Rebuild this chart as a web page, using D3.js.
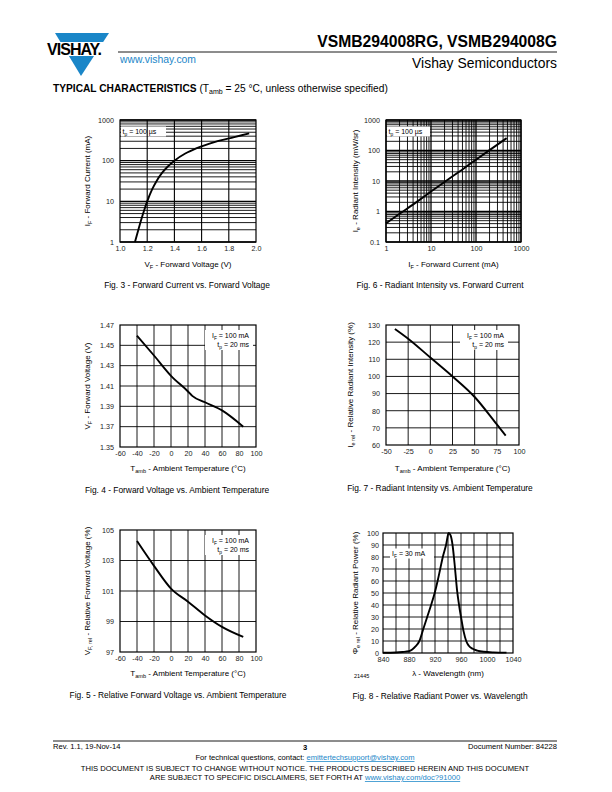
<!DOCTYPE html>
<html><head><meta charset="utf-8">
<script src="https://cdn.jsdelivr.net/npm/d3@7"></script>
<style>
body{margin:0;background:#fff;}
svg{display:block;font-family:"Liberation Sans",Arial,sans-serif;}
</style></head>
<body><svg id="page" width="612" height="792"></svg>
<script>
// ---------- DATA ----------
// Fig. 3 - Forward Current vs. Forward Voltage
const fig3_VF = [1.11,1.135,1.15,1.17,1.2,1.237,1.265,1.309,1.348,1.40,1.48,1.56,1.70,1.84,1.95];
const fig3_IF = [1,2,3,5,10,20,30,50,70,100,150,200,290,380,470];
const fig3_xTicks = [1.0,1.2,1.4,1.6,1.8,2.0];
const fig3_yTicks = [1,10,100,1000];
// Fig. 6 - Radiant Intensity vs. Forward Current
const fig6_IF = [1,2,5,10,20,50,100,200,480];
const fig6_Ie = [0.41,0.84,2.15,4.5,9.3,24,50,103,255];
const fig6_xTicks = [1,10,100,1000];
const fig6_yTicks = [0.1,1,10,100,1000];
// Fig. 4 - Forward Voltage vs. Ambient Temperature
const fig4_T = [-40,-20,0,20,25,40,60,85];
const fig4_VF = [1.4595,1.440,1.420,1.4046,1.4003,1.394,1.386,1.370];
const fig4_xTicks = [-60,-40,-20,0,20,40,60,80,100];
const fig4_yTicks = [1.35,1.37,1.39,1.41,1.43,1.45,1.47];
// Fig. 7 - Radiant Intensity vs. Ambient Temperature
const fig7_T = [-40,-25,0,25,50,75,85];
const fig7_Ie = [127.7,122,111,100,88,72,65.5];
const fig7_xTicks = [-50,-25,0,25,50,75,100];
const fig7_yTicks = [60,70,80,90,100,110,120,130];
// Fig. 5 - Relative Forward Voltage vs. Ambient Temperature
const fig5_T = [-40,-20,0,20,40,60,85];
const fig5_VF = [104.28,102.65,101.16,100.3,99.4,98.65,97.99];
const fig5_xTicks = [-60,-40,-20,0,20,40,60,80,100];
const fig5_yTicks = [97,99,101,103,105];
// Fig. 8 - Relative Radiant Power vs. Wavelength
const fig8_WL = [840,860,870,880,885,890,896,902,908,914,919.5,924,928,932,937,941,944,947,950,954,957,960,964,968,972,978,985,995,1010,1030];
const fig8_P = [0.2,0.4,0.8,1.5,3,5.5,10,20,30,40,50,60,70,80,90,100,98,90,75,52,40,30,18,10,6,3.5,2,1,0.5,0.3];
const fig8_xTicks = [840,880,920,960,1000,1040];
const fig8_yTicks = [0,10,20,30,40,50,60,70,80,90,100];

// ---------- DRAW ----------
const svg = d3.select("#page");
const FONT = '"Liberation Sans",Arial,sans-serif';
const TICK = 7.2, TITLE = 8, CAP = 8.4, LEG = 7;

// header
const logo = svg.append("g");
logo.append("path").attr("d","M55,33 L109,33 L81,76 Z").attr("fill","#1a86c8");
logo.append("rect").attr("x",44).attr("y",42).attr("width",68).attr("height",14).attr("fill","#fff");
logo.append("text").attr("x",74).attr("y",54.5).attr("text-anchor","middle")
  .attr("font-size",16).attr("font-weight","bold").attr("letter-spacing",-1).text("VISHAY.");
svg.append("text").attr("x",557).attr("y",47).attr("text-anchor","end")
  .attr("font-size",15.7).attr("font-weight","bold").text("VSMB294008RG, VSMB294008G");
svg.append("line").attr("x1",118).attr("x2",557).attr("y1",52).attr("y2",52).attr("stroke","#000").attr("stroke-width",0.9);
svg.append("text").attr("x",120).attr("y",62.5).attr("font-size",10.4).attr("fill","#1a86c8").text("www.vishay.com");
svg.append("text").attr("x",557).attr("y",68).attr("text-anchor","end").attr("font-size",13.9).text("Vishay Semiconductors");
const tc = svg.append("text").attr("x",53).attr("y",92).attr("font-size",10.2);
tc.append("tspan").attr("font-weight","bold").text("TYPICAL CHARACTERISTICS");
tc.append("tspan").text(" (T");
tc.append("tspan").attr("font-size",7).attr("dy",2).text("amb");
tc.append("tspan").attr("dy",-2).text(" = 25 °C, unless otherwise specified)");

// footer
const FS = 7.6;
svg.append("line").attr("x1",53).attr("x2",557).attr("y1",741).attr("y2",741).attr("stroke","#000").attr("stroke-width",0.9);
svg.append("text").attr("x",53).attr("y",749).attr("font-size",FS).text("Rev. 1.1, 19-Nov-14");
svg.append("text").attr("x",305).attr("y",750).attr("text-anchor","middle").attr("font-size",FS).attr("font-weight","bold").text("3");
svg.append("text").attr("x",557).attr("y",749).attr("text-anchor","end").attr("font-size",FS).text("Document Number: 84228");
const ft = svg.append("text").attr("x",305).attr("y",760).attr("text-anchor","middle").attr("font-size",FS);
ft.append("tspan").text("For technical questions, contact: ");
ft.append("tspan").attr("fill","#1a86c8").attr("text-decoration","underline").text("emittertechsupport@vishay.com");
svg.append("text").attr("x",305).attr("y",771).attr("text-anchor","middle").attr("font-size",FS)
  .text("THIS DOCUMENT IS SUBJECT TO CHANGE WITHOUT NOTICE. THE PRODUCTS DESCRIBED HEREIN AND THIS DOCUMENT");
const ft2 = svg.append("text").attr("x",305).attr("y",780).attr("text-anchor","middle").attr("font-size",FS);
ft2.append("tspan").text("ARE SUBJECT TO SPECIFIC DISCLAIMERS, SET FORTH AT ");
ft2.append("tspan").attr("fill","#1a86c8").attr("text-decoration","underline").text("www.vishay.com/doc?91000");

function logGrid(domain){
  const out=[]; let d=domain[0];
  while(d<domain[1]-1e-9){ for(let k=1;k<10;k++){ out.push({v:d*k,major:k===1}); } d*=10; }
  out.push({v:domain[1],major:true});
  return out;
}

function sub(t, parts, fs){
  t.append("tspan").text(parts[0]);
  if(parts[1]) t.append("tspan").attr("font-size",fs*0.7).attr("dy",fs*0.22).text(parts[1]);
  if(parts[2]) t.append("tspan").attr("dy",parts[1]? -fs*0.22:0).text(parts[2]);
}

function chart(o){
  const g = svg.append("g");
  const x = (o.xLog? d3.scaleLog(): d3.scaleLinear()).domain(o.xDomain).range([o.x0,o.x1]);
  const y = (o.yLog? d3.scaleLog(): d3.scaleLinear()).domain(o.yDomain).range([o.y1,o.y0]);
  const xg = o.xLog? logGrid(o.xDomain) : o.xGrid.map(v=>({v,major:false}));
  const yg = o.yLog? logGrid(o.yDomain) : o.yGrid.map(v=>({v,major:false}));
  g.selectAll(".gx").data(xg).enter().append("line")
    .attr("x1",d=>x(d.v)).attr("x2",d=>x(d.v)).attr("y1",o.y0).attr("y2",o.y1)
    .attr("stroke","#000").attr("stroke-width",d=>d.major?1.3:0.9);
  g.selectAll(".gy").data(yg).enter().append("line")
    .attr("y1",d=>y(d.v)).attr("y2",d=>y(d.v)).attr("x1",o.x0).attr("x2",o.x1)
    .attr("stroke","#000").attr("stroke-width",d=>d.major?1.3:0.9);
  if(o.legend){
    const L=o.legend;
    g.append("rect").attr("x",L.x).attr("y",L.y).attr("width",L.w).attr("height",L.h).attr("fill","#fff");
    L.lines.forEach((ln,i)=>{
      const t=g.append("text").attr("x",L.tx).attr("y",L.ty+i*9).attr("font-size",LEG).attr("text-anchor",L.anchor||"start");
      sub(t, ln, LEG);
    });
  }
  g.append("rect").attr("x",o.x0).attr("y",o.y0).attr("width",o.x1-o.x0).attr("height",o.y1-o.y0)
    .attr("fill","none").attr("stroke","#000").attr("stroke-width",1.2);
  const line = d3.line().x(d=>x(d[0])).y(d=>y(d[1])).curve(d3.curveMonotoneX);
  g.append("path").datum(o.xs.map((v,i)=>[v,o.ys[i]])).attr("d",line)
    .attr("fill","none").attr("stroke","#000").attr("stroke-width",1.9);
  const xAxis = d3.axisBottom(x).tickValues(o.xTicks).tickSize(0).tickPadding(4).tickFormat(o.xFmt);
  const xa = g.append("g").attr("transform",`translate(0,${o.y1})`).call(xAxis);
  const yAxis = d3.axisLeft(y).tickValues(o.yTicks).tickSize(0).tickPadding(o.yPad||6).tickFormat(o.yFmt);
  const ya = g.append("g").attr("transform",`translate(${o.x0},0)`).call(yAxis);
  [xa,ya].forEach(a=>{ a.select(".domain").remove(); a.selectAll("text").attr("font-size",TICK).attr("font-family",FONT).attr("fill","#222"); });
  const xt = g.append("text").attr("x",(o.x0+o.x1)/2).attr("y",o.y1+(o.xtDy||25)).attr("text-anchor","middle").attr("font-size",TITLE);
  sub(xt, o.xTitle, TITLE);
  const yt = g.append("text").attr("transform",`translate(${o.ytX},${(o.y0+o.y1)/2}) rotate(-90)`).attr("text-anchor","middle").attr("font-size",TITLE);
  sub(yt, o.yTitle, TITLE);
  g.append("text").attr("x",o.capX).attr("y",o.y1+45.5).attr("text-anchor","middle").attr("font-size",CAP).text(o.caption);
  return g;
}
const plain = d=>String(d);

chart({x0:120,x1:256,y0:120,y1:242,xDomain:[1,2],yDomain:[1,1000],yLog:true,
  xGrid:[],xTicks:fig3_xTicks,yTicks:fig3_yTicks,xFmt:d=>d.toFixed(1),yFmt:plain,
  xs:fig3_VF,ys:fig3_IF,
  legend:{x:121,y:126.5,w:45,h:10,tx:122.5,ty:134,lines:[["t","p"," = 100 µs"]]},
  xTitle:["V","F"," - Forward Voltage (V)"],yTitle:["I","F"," - Forward Current (mA)"],ytX:90,
  caption:"Fig. 3 - Forward Current vs. Forward Voltage",capX:187});
(function(){
  const x=d3.scaleLinear().domain([1,2]).range([120,256]);
  svg.append("g").selectAll("line").data([1.2,1.4,1.6,1.8]).enter().append("line")
    .attr("x1",d=>x(d)).attr("x2",d=>x(d)).attr("y1",120).attr("y2",242).attr("stroke","#000").attr("stroke-width",1.1);
})();

chart({x0:386,x1:521,y0:120,y1:242,xDomain:[1,1000],yDomain:[0.1,1000],xLog:true,yLog:true,
  xTicks:fig6_xTicks,yTicks:fig6_yTicks,xFmt:plain,yFmt:plain,
  xs:fig6_IF,ys:fig6_Ie,
  legend:{x:387,y:126.5,w:43,h:10,tx:388.5,ty:134,lines:[["t","p"," = 100 µs"]]},
  xTitle:["I","F"," - Forward Current (mA)"],yTitle:["I","e"," - Radiant Intensity (mW/sr)"],ytX:358,
  caption:"Fig. 6 - Radiant Intensity vs. Forward Current",capX:440});

const tempTitle=["T","amb"," - Ambient Temperature (°C)"];
const lg2 = (x0,y0)=>({x:x0,y:y0,w:48,h:20,tx:x0+44,ty:y0+8,anchor:"end",lines:[["I","F"," = 100 mA"],["t","p"," = 20 ms"]]});

chart({x0:120,x1:256,y0:325,y1:447,xDomain:[-60,100],yDomain:[1.35,1.47],
  xGrid:[-40,-20,0,20,40,60,80],yGrid:[1.37,1.39,1.41,1.43,1.45],xTicks:fig4_xTicks,yTicks:fig4_yTicks,
  xFmt:plain,yFmt:d=>d.toFixed(2),xs:fig4_T,ys:fig4_VF,
  legend:lg2(205,330),xtDy:24,
  xTitle:tempTitle,yTitle:["V","F"," - Forward Voltage (V)"],ytX:90,
  caption:"Fig. 4 - Forward Voltage vs. Ambient Temperature",capX:177});

chart({x0:386,x1:519,y0:325,y1:445,xDomain:[-50,100],yDomain:[60,130],
  xGrid:[-25,0,25,50,75],yGrid:[70,80,90,100,110,120],xTicks:fig7_xTicks,yTicks:fig7_yTicks,
  xFmt:plain,yFmt:plain,xs:fig7_T,ys:fig7_Ie,
  legend:lg2(460,330),xtDy:26,
  xTitle:tempTitle,yTitle:["I","e rel"," - Relative Radiant Intensity (%)"],ytX:353,
  caption:"Fig. 7 - Radiant Intensity vs. Ambient Temperature",capX:440});

chart({x0:120,x1:256,y0:530,y1:652,xDomain:[-60,100],yDomain:[97,105],
  xGrid:[-40,-20,0,20,40,60,80],yGrid:[99,101,103],xTicks:fig5_xTicks,yTicks:fig5_yTicks,
  xFmt:plain,yFmt:plain,xs:fig5_T,ys:fig5_VF,
  legend:lg2(205,535),xtDy:24,
  xTitle:tempTitle,yTitle:["V","F, rel"," - Relative Forward Voltage (%)"],ytX:90,
  caption:"Fig. 5 - Relative Forward Voltage vs. Ambient Temperature",capX:178});

chart({x0:383,x1:513,y0:533,y1:653,xDomain:[840,1040],yDomain:[0,100],
  xGrid:[860,880,900,920,940,960,980,1000,1020],yGrid:[10,20,30,40,50,60,70,80,90],xTicks:fig8_xTicks,yTicks:fig8_yTicks,
  xFmt:plain,yFmt:plain,xs:fig8_WL,ys:fig8_P,yPad:4,xtDy:23,
  legend:{x:390,y:548.5,w:44,h:10,tx:392,ty:556,lines:[["I","F"," = 30 mA"]]},
  xTitle:["λ - Wavelength (nm)"],yTitle:["Φ","e rel"," - Relative Radiant Power (%)"],ytX:358,
  caption:"Fig. 8 - Relative Radiant Power vs. Wavelength",capX:440});
svg.append("text").attr("x",354).attr("y",678).attr("font-size",5.5).text("21445");
</script></body></html>
